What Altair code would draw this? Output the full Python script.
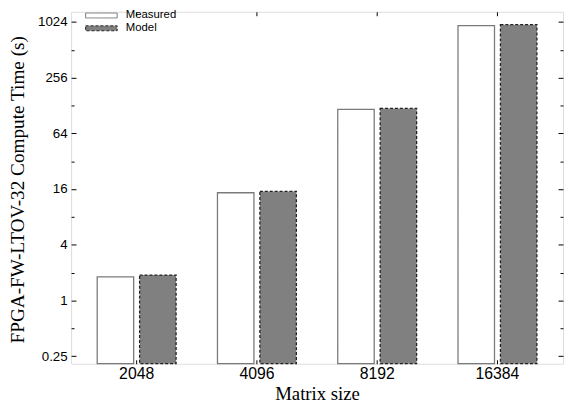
import altair as alt
import pandas as pd

sizes = ["2048", "4096", "8192", "16384"]
series = ["Measured", "Model"]
measured = [1.80, 14.6, 116, 935]
model = [1.88, 15.1, 119, 958]

major_ticks = [0.25, 1, 4, 16, 64, 256, 1024]
minor_ticks = [0.5, 2, 8, 32, 128, 512]
y_domain = [0.207, 1319]

rows = []
for i, s in enumerate(sizes):
    rows.append({"size": s, "series": "Measured", "value": measured[i]})
    rows.append({"size": s, "series": "Model", "value": model[i]})
df = pd.DataFrame(rows)

W, H = 499, 357

xscale = alt.Scale(paddingInner=0.344, paddingOuter=0.217)
xoscale = alt.Scale(paddingInner=0.14, paddingOuter=0)
yscale = alt.Scale(type="log", base=2, domain=y_domain)

def xenc(axis):
    return alt.X("size:N", sort=sizes, scale=xscale, axis=axis)

def yenc(axis):
    return alt.Y("value:Q", scale=yscale, axis=axis)

xo = alt.XOffset("series:N", sort=series, scale=xoscale)

sym = "M-3.2,-0.5H3.2V0.5H-3.2Z"

def leg():
    return alt.Legend(title=None, orient="none", legendX=25, legendY=-2,
                      symbolType=sym, symbolSize=100,
                      labelFont="Liberation Sans", labelFontSize=11.5,
                      labelColor="black", rowPadding=0, symbolOpacity=1,
                      symbolStrokeWidth=1, labelOffset=19)

bars = alt.Chart(df).mark_bar(strokeWidth=1.3).encode(
    x=xenc(alt.Axis(title="Matrix size", labelAngle=0, ticks=False, tickSize=0, domain=False,
                    labelFont="Liberation Sans", labelFontSize=16, labelPadding=15,
                    labelBaseline="alphabetic", labelColor="black",
                    titleFont="Liberation Serif", titleFontSize=19, titleFontWeight="normal",
                    titleColor="black", titleY=36, titleBaseline="alphabetic")),
    xOffset=xo,
    y=yenc(alt.Axis(title="FPGA-FW-LTOV-32 Compute Time (s)", values=major_ticks,
                    ticks=False, tickSize=0, domain=False, grid=False,
                    labelFont="Liberation Sans", labelFontSize=13.5, labelPadding=4,
                    labelColor="black",
                    labelExpr="datum.value < 1 ? '0.25' : format(datum.value, 'd')",
                    titleFont="Liberation Serif", titleFontSize=19.5, titleFontWeight="normal",
                    titleColor="black", titleX=-54, titleY=180, titleBaseline="middle",
                    titleAlign="center", titleAngle=270)),
    y2=alt.Y2(datum=y_domain[0]),
    fill=alt.Fill("series:N", sort=series,
                  scale=alt.Scale(domain=series, range=["white", "#808080"]),
                  legend=leg()),
    stroke=alt.Stroke("series:N", sort=series,
                      scale=alt.Scale(domain=series, range=["#7a7a7a", "#222222"]),
                      legend=leg()),
    strokeDash=alt.StrokeDash("series:N", sort=series,
                              scale=alt.Scale(domain=series, range=[[1, 0], [3, 2]]),
                              legend=leg()),
)

def tick_layer(xaxis, yaxis):
    return alt.Chart(df).mark_point(opacity=0).encode(
        x=xenc(xaxis), xOffset=xo, y=yenc(yaxis)
    )

def yax(orient, vals, size):
    return alt.Axis(orient=orient, offset=-W, values=vals, labels=False, domain=False,
                    grid=False, tickSize=size, tickColor="black", tickWidth=1, title=None)

def xax(orient, size):
    return alt.Axis(orient=orient, offset=-H, labels=False, domain=False, grid=False,
                    tickSize=size, tickColor="black", tickWidth=1, title=None)

l2 = tick_layer(xax("top", 4), yax("right", major_ticks, 5))
l3 = tick_layer(xax("bottom", 4), yax("right", minor_ticks, 3))
l4 = tick_layer(None, yax("left", major_ticks, 5))
l5 = tick_layer(None, yax("left", minor_ticks, 3))

chart = alt.layer(bars, l2, l3, l4, l5).resolve_axis(x="independent", y="independent").properties(
    width=W, height=H,
    autosize=alt.AutoSizeParams(type="none"),
    padding={"left": 64, "top": 1, "right": 1, "bottom": 38},
).configure_view(stroke="black", strokeWidth=1.2).configure(background="white")

chart.save("out.html", embed_options={"renderer": "svg", "actions": False})
